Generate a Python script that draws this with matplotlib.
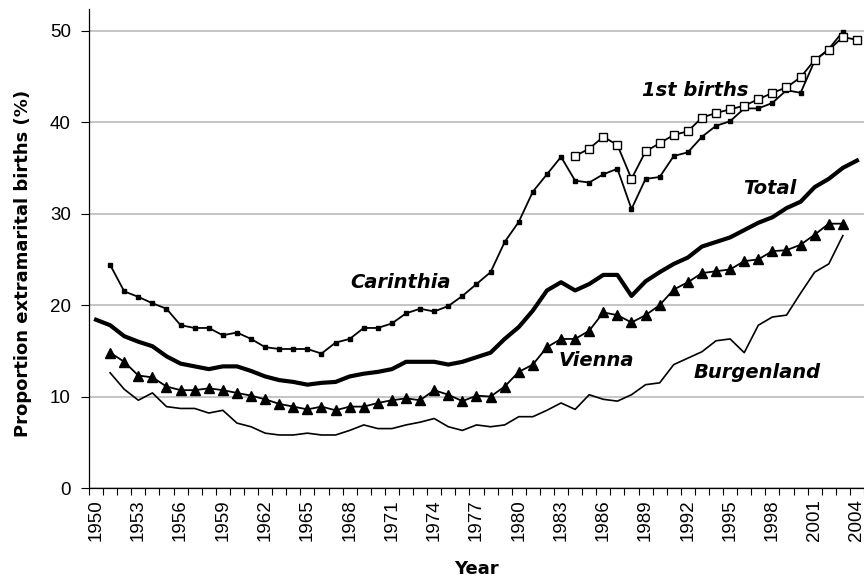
import numpy as np
import matplotlib
matplotlib.use("Agg")
import matplotlib.pyplot as plt

plt.rcParams['font.family'] = ['Liberation Sans', 'DejaVu Sans']

## values (percent)
years_total = np.arange(1950, 2005)
total = [18.4, 17.8, 16.6, 16.0, 15.5, 14.4, 13.6, 13.3, 13.0, 13.3,
         13.3, 12.8, 12.2, 11.8, 11.6, 11.3, 11.5, 11.6, 12.2, 12.5,
         12.7, 13.0, 13.8, 13.8, 13.8, 13.5, 13.8, 14.3, 14.8, 16.3,
         17.6, 19.4, 21.6, 22.5, 21.6, 22.3, 23.3, 23.3, 21.0, 22.6,
         23.6, 24.5, 25.2, 26.4, 26.9, 27.4, 28.2, 29.0, 29.6, 30.6,
         31.3, 32.9, 33.8, 35.0, 35.8]

years_reg = np.arange(1951, 2004)
carinthia = [24.4, 21.5, 20.9, 20.2, 19.6, 17.8, 17.5, 17.5, 16.7, 17.0,
             16.3, 15.4, 15.2, 15.2, 15.2, 14.7, 15.9, 16.3, 17.5, 17.5,
             18.0, 19.1, 19.6, 19.3, 19.9, 21.0, 22.3, 23.6, 26.9, 29.1,
             32.4, 34.3, 36.2, 33.6, 33.4, 34.3, 34.9, 30.5, 33.8, 34.0,
             36.3, 36.7, 38.4, 39.6, 40.1, 41.5, 41.5, 42.1, 43.5, 43.2,
             46.7, 48.0, 49.9]
vienna = [14.8, 13.8, 12.3, 12.1, 11.1, 10.7, 10.7, 10.9, 10.7, 10.4,
          10.1, 9.7, 9.2, 8.9, 8.6, 8.9, 8.5, 8.9, 8.9, 9.3,
          9.6, 9.8, 9.6, 10.7, 10.2, 9.5, 10.1, 10.0, 11.1, 12.7,
          13.5, 15.4, 16.3, 16.3, 17.2, 19.2, 18.9, 18.1, 18.9, 20.0,
          21.7, 22.5, 23.5, 23.7, 23.9, 24.8, 25.0, 25.9, 26.0, 26.6,
          27.7, 28.9, 28.9]
burgenland = [12.6, 10.8, 9.6, 10.4, 8.9, 8.7, 8.7, 8.2, 8.5, 7.1,
              6.7, 6.0, 5.8, 5.8, 6.0, 5.8, 5.8, 6.3, 6.9, 6.5,
              6.5, 6.9, 7.2, 7.6, 6.7, 6.3, 6.9, 6.7, 6.9, 7.8,
              7.8, 8.5, 9.3, 8.6, 10.2, 9.7, 9.5, 10.2, 11.3, 11.5,
              13.5, 14.2, 14.9, 16.1, 16.3, 14.8, 17.8, 18.7, 18.9, 21.3,
              23.6, 24.5, 27.6]

years_first = np.arange(1984, 2005)
first_births = [36.3, 37.1, 38.4, 37.5, 33.8, 36.8, 37.7, 38.6, 39.0, 40.5,
                41.0, 41.4, 41.8, 42.5, 43.2, 43.8, 44.9, 46.8, 47.9, 49.3,
                49.0]

tick_years = np.arange(1950, 2005, 3)

fig = plt.figure(figsize=(8.64, 5.81), dpi=100)
ax = fig.add_axes([0.103, 0.160, 0.897, 0.825])

ax.plot(years_reg, burgenland, color='black', lw=1.2)
ax.plot(years_reg, vienna, color='black', lw=1.3, marker='^', ms=7.5)
ax.plot(years_total, total, color='black', lw=3.0)
ax.plot(years_reg, carinthia, color='black', lw=1.3, marker='s', ms=3)
ax.plot(years_first, first_births, color='black', lw=1.3, marker='s', ms=5.5,
        mfc='white', mec='black', mew=1.0)

# series names written on the plot, bold italic
lab = dict(fontsize=14, fontweight='bold', fontstyle='italic', ha='center', va='center',
           family='DejaVu Sans')
ax.text(1971.6, 22.5, "Carinthia", **lab)
ax.text(1997.8, 32.8, "Total", **lab)
ax.text(1992.5, 43.5, "1st births", **lab)
ax.text(1985.5, 13.9, "Vienna", **lab)
ax.text(1996.9, 12.6, "Burgenland", **lab)

ax.set_xlim(1949.5, 2004.5)
ax.set_ylim(0, 52.4)
ax.set_yticks(np.arange(0, 51, 10))
ax.set_xticks(tick_years)
ax.set_xticklabels([str(y) for y in tick_years], rotation=90)
ax.set_xticks(np.arange(1949.5, 2005, 1), minor=True)
ax.tick_params(axis='x', which='major', length=0, pad=8, labelsize=13.5)
ax.tick_params(axis='x', which='minor', length=5, direction='out', width=0.8)
ax.tick_params(axis='y', length=6, width=0.8, labelsize=13.5, pad=7)

ax.yaxis.grid(True, color='#c0c0c0', lw=1.3)
ax.set_axisbelow(True)
for s in ['top', 'right']:
    ax.spines[s].set_visible(False)
ax.spines['left'].set_linewidth(0.9)
ax.spines['bottom'].set_linewidth(0.9)

ax.set_xlabel("Year", fontsize=13, fontweight='bold', labelpad=14, family='DejaVu Sans')
ax.set_ylabel("Proportion extramarital births (%)", fontsize=13, fontweight='bold',
              family='DejaVu Sans')
ax.yaxis.set_label_coords(-0.074, 0.468)

fig.savefig("out.png", dpi=100)
